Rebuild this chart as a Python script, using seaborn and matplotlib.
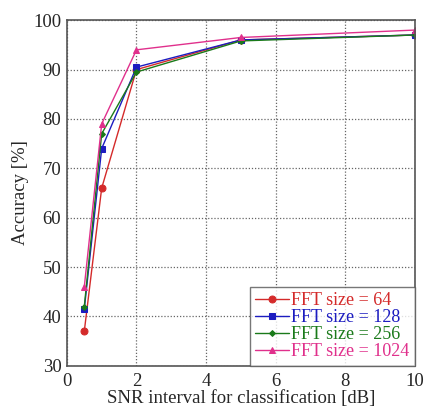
import matplotlib
matplotlib.use('Agg')
import matplotlib.pyplot as plt
import seaborn as sns
import pandas as pd

# SNR interval [dB] and accuracy [%] per FFT size
snr = [0.5, 1, 2, 5, 10]
acc_64 = [37, 66, 90, 96, 97]
acc_128 = [41.5, 74, 90.5, 96, 97]
acc_256 = [42, 77, 89.5, 95.8, 97]
acc_1024 = [46, 79, 94, 96.5, 98]
labels = ['FFT size = 64', 'FFT size = 128', 'FFT size = 256', 'FFT size = 1024']

colors = ['#d42a2a', '#1c1cc0', '#1a7a1a', '#e0308c']
markers = ['o', 's', 'D', '^']
msizes = [5, 5, 3, 5]

df = pd.DataFrame({
    'snr': snr * 4,
    'acc': acc_64 + acc_128 + acc_256 + acc_1024,
    'label': [l for l in labels for _ in snr],
})

sns.set_style('white')
plt.rcParams['font.family'] = ['Liberation Serif', 'DejaVu Serif']

fig = plt.figure(figsize=(4.26, 4.12), dpi=100)
ax = fig.add_axes([0.157, 0.112, 0.817, 0.839])

for lab, c, m, ms in zip(labels, colors, markers, msizes):
    sub = df[df['label'] == lab]
    sns.lineplot(data=sub, x='snr', y='acc', ax=ax, color=c, marker=m,
                 markersize=ms, markeredgecolor=c, linewidth=1.0, label=lab)

ax.set_xlim(0, 10)
ax.set_ylim(30, 100)
ax.set_xticks([0, 2, 4, 6, 8, 10])
ax.set_yticks(range(30, 101, 10))
ax.grid(True, linestyle=(0, (1, 1.5)), color='#666666', linewidth=0.9)
for s in ax.spines.values():
    s.set_color('#555555')
    s.set_linewidth(1.2)
ax.tick_params(axis='x', labelsize=13.5, length=0, pad=5)
ax.tick_params(axis='y', labelsize=13.5, length=0, pad=4)
ax.set_xlabel('SNR interval for classification [dB]', fontsize=13.5, labelpad=0)
ax.set_ylabel('Accuracy [%]', fontsize=13.5, labelpad=3)

leg = ax.legend(loc='lower right', fontsize=13, frameon=True, fancybox=False,
                edgecolor='#555555', handlelength=1.9, handletextpad=0.1,
                labelspacing=0.0, borderpad=0.3, borderaxespad=0.0)
leg.get_frame().set_linewidth(1.0)
for t, c in zip(leg.get_texts(), colors):
    t.set_color(c)

fig.savefig('out.png', dpi=100)
